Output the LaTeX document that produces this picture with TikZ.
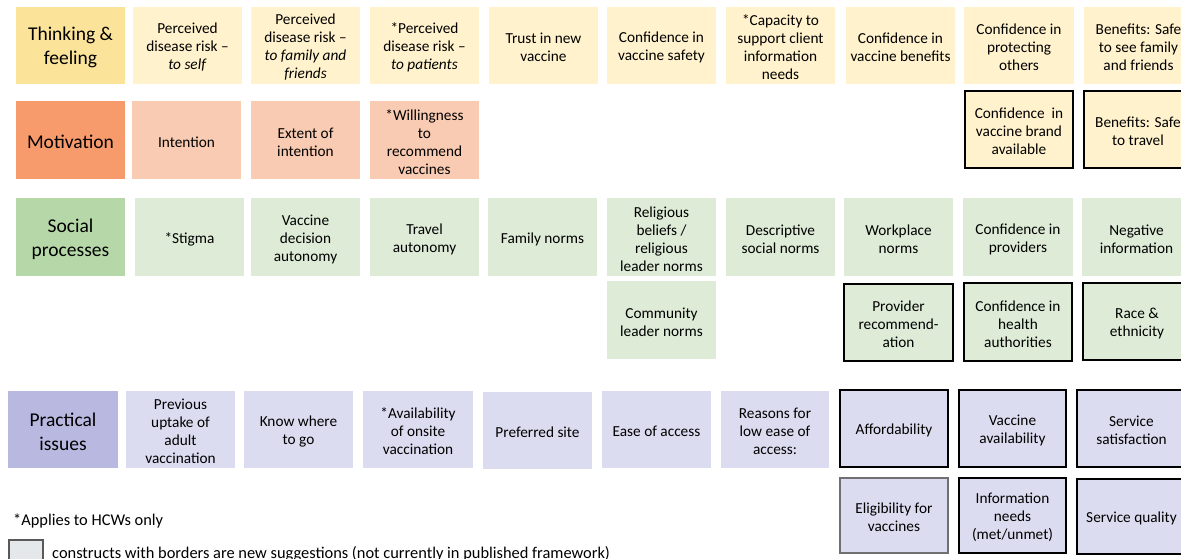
\documentclass[tikz,border=0pt]{standalone}
\usepackage{fontspec}
\setmainfont{Carlito}
\definecolor{tkd}{HTML}{FCE39A}
\definecolor{tkl}{HTML}{FFF2CC}
\definecolor{mod}{HTML}{F79A6C}
\definecolor{mol}{HTML}{F9CBB2}
\definecolor{sod}{HTML}{B6D8A8}
\definecolor{sol}{HTML}{DDEBD7}
\definecolor{prd}{HTML}{B8B8E0}
\definecolor{prl}{HTML}{DCDCF0}
\definecolor{lgf}{HTML}{E4E8EA}
\definecolor{lgb}{HTML}{595959}
\definecolor{grb}{HTML}{707070}
\tikzset{
  base/.style={rectangle, inner sep=0pt, align=center, font=\fontsize{15.3}{18}\selectfont},
  catbox/.style={base, font=\fontsize{19.5}{24}\selectfont},
  newb/.style={draw=black, line width=2pt},
  newg/.style={draw=grb, line width=2.5pt},
  note/.style={anchor=west, inner sep=0pt, font=\fontsize{16.4}{19}\selectfont},
}
% name, style, x1, y1, x2, y2, text
\newcommand\bx[7]{%
  \node[#2, minimum width={(#5-#3)*1pt}, minimum height={(#6-#4)*1pt}] (#1) at ({(#3+#5)/2},{(#4+#6)/2}) {};
  \node[#2, fill=none, draw=none, minimum width=0pt, minimum height=0pt] (#1-t) at ([yshift=-2pt]#1.center) {#7};}
\begin{document}
\begin{tikzpicture}[x=1pt,y=-1pt]
\useasboundingbox (0,0) rectangle (1181,559);
\clip (0,0) rectangle (1181,559);
% Row 1: Thinking & feeling
\bx{tcat}{catbox,fill=tkd}{16}{7}{125}{84}{Thinking \&\\feeling}
\bx{t1}{base,fill=tkl}{133}{7}{242}{84}{Perceived\\disease risk –\\\textit{to self}}
\bx{t2}{base,fill=tkl}{251}{7}{360}{84}{Perceived\\disease risk –\\\textit{to family and}\\\textit{friends}}
\bx{t3}{base,fill=tkl}{370}{7}{479}{84}{*Perceived\\disease risk –\\\textit{to patients}}
\bx{t4}{base,fill=tkl}{489}{7}{598}{84}{Trust in new\\vaccine}
\bx{t5}{base,fill=tkl}{607}{7}{716}{84}{Confidence in\\vaccine safety}
\bx{t6}{base,fill=tkl}{726}{7}{835}{84}{*Capacity to\\support client\\information\\needs}
\bx{t7}{base,fill=tkl}{846}{7}{955}{84}{Confidence in\\vaccine benefits}
\bx{t8}{base,fill=tkl}{964}{7}{1074}{84}{Confidence in\\protecting\\others}
\bx{t9}{base,fill=tkl}{1084}{7}{1193}{84}{Benefits: Safe\\to see family\\and friends}
% Row 2: Motivation
\bx{mcat}{catbox,fill=mod}{16}{101}{125}{179}{Motivation}
\bx{m1}{base,fill=mol}{132}{101}{241}{179}{Intention}
\bx{m2}{base,fill=mol}{251}{101}{360}{179}{Extent of\\intention}
\bx{m3}{base,fill=mol}{370}{101}{479}{179}{*Willingness\\to\\recommend\\vaccines}
\bx{m8}{base,fill=tkl,newb}{965}{91}{1073}{168}{Confidence~~in\\vaccine brand\\available}
\bx{m9}{base,fill=tkl,newb}{1084}{91}{1192}{168}{Benefits: Safe\\to travel}
% Row 3: Social processes
\bx{scat}{catbox,fill=sod}{16}{198}{125}{276}{Social\\processes}
\bx{s1}{base,fill=sol}{135}{198}{244}{276}{*Stigma}
\bx{s2}{base,fill=sol}{251}{198}{360}{276}{Vaccine\\decision\\autonomy}
\bx{s3}{base,fill=sol}{370}{198}{479}{276}{Travel\\autonomy}
\bx{s4}{base,fill=sol}{488}{198}{597}{276}{Family norms}
\bx{s5}{base,fill=sol}{607}{198}{716}{276}{Religious\\beliefs /\\religious\\leader norms}
\bx{s6}{base,fill=sol}{726}{198}{835}{276}{Descriptive\\social norms}
\bx{s7}{base,fill=sol}{844}{198}{953}{276}{Workplace\\norms}
\bx{s8}{base,fill=sol}{963}{198}{1073}{276}{Confidence in\\providers}
\bx{s9}{base,fill=sol}{1082}{198}{1191}{276}{Negative\\information}
% Row 4
\bx{s10}{base,fill=sol}{607}{281}{716}{359}{Community\\leader norms}
\bx{s11}{base,fill=sol,newb}{844}{284}{953}{361}{Provider\\recommend-\\ation}
\bx{s12}{base,fill=sol,newb}{964}{283}{1072}{361}{Confidence in\\health\\authorities}
\bx{s13}{base,fill=sol,newb}{1083}{283}{1191}{360}{Race \&\\ethnicity}
% Row 5: Practical issues
\bx{pcat}{catbox,fill=prd}{8}{391}{118}{468}{Practical\\issues}
\bx{p1}{base,fill=prl}{126}{391}{235}{468}{Previous\\uptake of\\adult\\vaccination}
\bx{p2}{base,fill=prl}{244}{391}{353}{468}{Know where\\to go}
\bx{p3}{base,fill=prl}{363}{391}{473}{468}{*Availability\\of onsite\\vaccination}
\bx{p4}{base,fill=prl}{483}{392}{592}{469}{Preferred site}
\bx{p5}{base,fill=prl}{602}{391}{711}{468}{Ease of access}
\bx{p6}{base,fill=prl}{721}{391}{829}{468}{Reasons for\\low ease of\\access:}
\bx{p7}{base,fill=prl,newb}{840}{390}{948}{467}{Affordability}
\bx{p8}{base,fill=prl,newb}{959}{390}{1066}{467}{Vaccine\\availability}
\bx{p9}{base,fill=prl,newb}{1077}{390}{1186}{467}{Service\\satisfaction}
% Row 6
\bx{p10}{base,fill=prl,newg}{840}{478}{948}{553}{Eligibility for\\vaccines}
\bx{p11}{base,fill=prl,newb}{959}{478}{1066}{553}{Information\\needs\\(met/unmet)}
\bx{p12}{base,fill=prl,newb}{1077}{479}{1186}{554}{Service quality}
% Legend
\node[note] (hcw) at (13,521) {*Applies to HCWs only};
\node[rectangle, fill=lgf, draw=lgb, line width=1.2pt, minimum width=34pt, minimum height=36pt, inner sep=0pt] (lgbox) at (26,558) {};
\node[note] (lgtext) at (52,554) {constructs with borders are new suggestions (not currently in published framework)};
\end{tikzpicture}
\end{document}
